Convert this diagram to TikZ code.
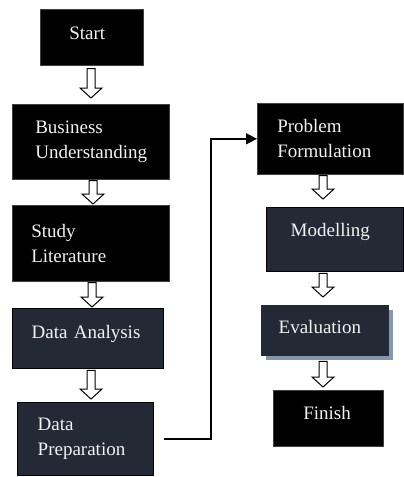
\documentclass[tikz,border=0pt]{standalone}
\usepackage{fontspec}
\setmainfont{Liberation Serif}
\usetikzlibrary{calc,arrows.meta,shadows}
\definecolor{navy}{HTML}{232A35}
\definecolor{shadowblue}{HTML}{8497B0}
\definecolor{txt}{HTML}{F2F2F2}
\tikzset{
  box/.style={rectangle, anchor=north west, inner ysep=0pt, inner xsep=0pt,
    align=left, text=txt, font=\fontsize{19}{25}\selectfont},
  blackbox/.style={box, fill=black, draw=black!75, line width=0.6pt},
  navybox/.style={box, fill=navy, draw=black, line width=1.4pt},
  blockarrow/.style={draw=black, fill=white, line width=1pt, line join=miter},
  conn/.style={draw=black, line width=1.5pt, -{Triangle[length=11pt,width=11pt]}},
}
% from, to, x, gap top, gap bottom
\newcommand\barrow[5]{%
  \path[blockarrow] let \p1=(#1.south), \p2=(#2.north) in
   ({#3pt-4pt},{\y1-#4pt}) -- ({#3pt+4pt},{\y1-#4pt}) -- ({#3pt+4pt},{\y2+#5pt+10pt})
   -- ({#3pt+11pt},{\y2+#5pt+10pt}) -- ({#3pt},{\y2+#5pt}) -- ({#3pt-11pt},{\y2+#5pt+10pt})
   -- ({#3pt-4pt},{\y2+#5pt+10pt}) -- cycle;}
\begin{document}
\begin{tikzpicture}[x=1pt,y=-1pt]
\useasboundingbox (0,0) rectangle (404,477);
\node[blackbox, minimum width=103pt, minimum height=56pt, text width=45pt, text depth=9pt] (start) at (40,9) {Start};
\node[blackbox, minimum width=157pt, minimum height=75pt, text width=111pt] (bu) at (12,104) {Business\\Understanding};
\node[blackbox, minimum width=157pt, minimum height=76pt, text width=119pt] (sl) at (12,205) {Study\\Literature};
\node[navybox, minimum width=151pt, minimum height=60pt, text width=113pt, text depth=13pt] (da) at (12,308) {Data Analysis};
\node[navybox, minimum width=136pt, minimum height=73pt, text width=96pt] (dp) at (17,402) {Data\\Preparation};
\node[blackbox, minimum width=146pt, minimum height=71pt, text width=106pt] (pf) at (257,103) {Problem\\Formulation};
\node[navybox, minimum width=137pt, minimum height=64pt, text width=89pt, text depth=19pt] (mo) at (266,207) {Modelling};
\node[navybox, draw=navy, minimum width=127pt, minimum height=50pt, text width=93pt, text depth=7pt,
  drop shadow={shadow xshift=4pt, shadow yshift=-4pt, fill=shadowblue, opacity=1}] (ev) at (261,305) {Evaluation};
\node[blackbox, minimum width=110pt, minimum height=56pt, text width=50pt, text depth=11pt] (fi) at (273,390) {Finish};
\barrow{start}{bu}{91}{3}{6}
\barrow{bu}{sl}{93}{1}{1}
\barrow{sl}{da}{92}{1}{1}
\barrow{da}{dp}{91}{1}{3}
\barrow{pf}{mo}{323}{1}{8}
\barrow{mo}{ev}{323}{1}{8}
\barrow{ev}{fi}{323}{5}{3}
\draw[conn] ([xshift=10pt]dp.east) -| ([xshift=-46pt]pf.west) -- (pf.west);
\end{tikzpicture}
\end{document}
